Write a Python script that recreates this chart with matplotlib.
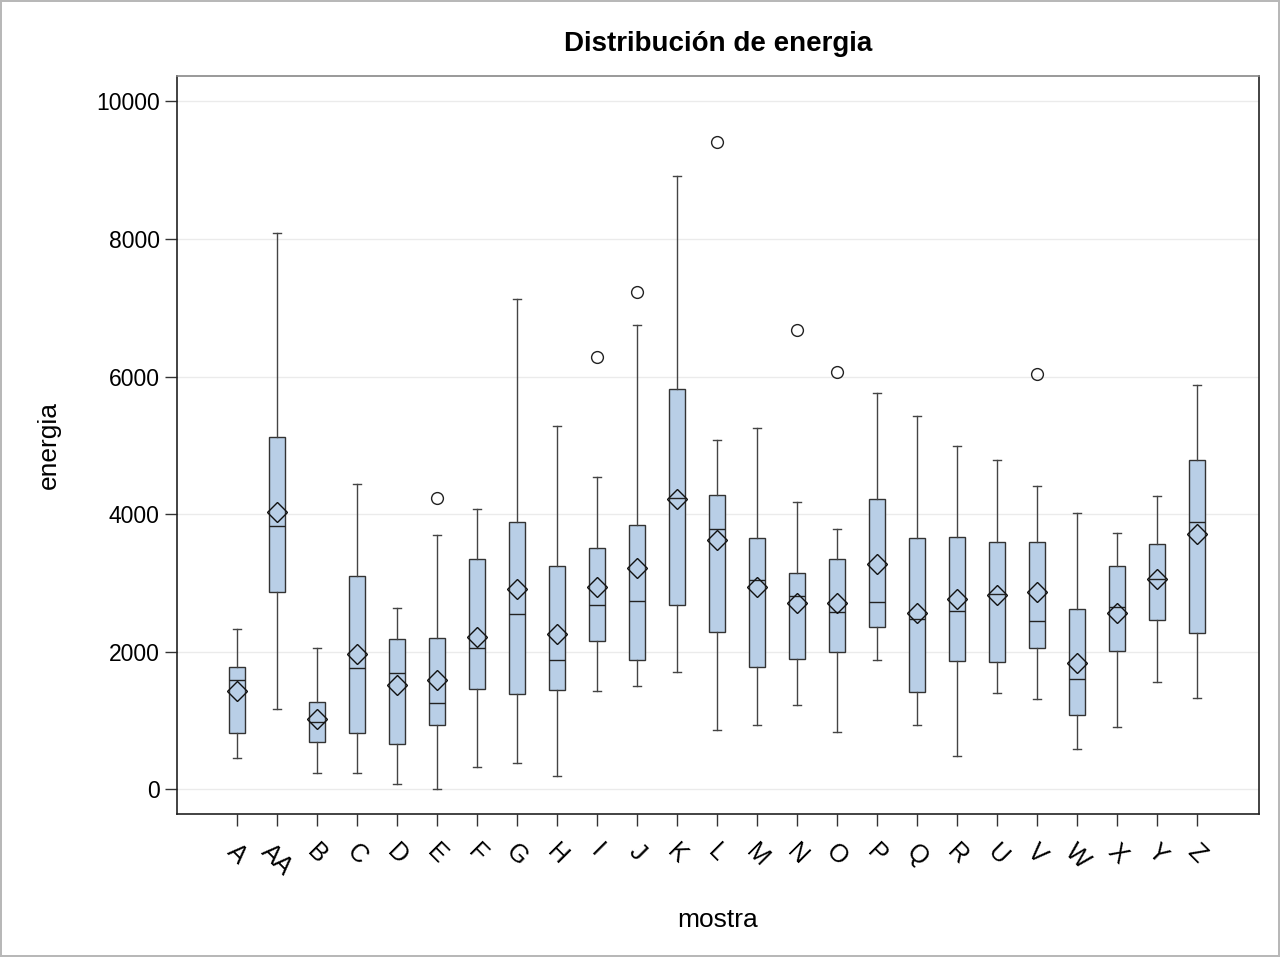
import matplotlib
matplotlib.use("Agg")
import matplotlib.pyplot as plt

plt.rcParams['font.family'] = ['Liberation Sans', 'DejaVu Sans']

categories = ["A", "AA", "B", "C", "D", "E", "F", "G", "H", "I", "J", "K", "L",
              "M", "N", "O", "P", "Q", "R", "U", "V", "W", "X", "Y", "Z"]
whisker_low = [450, 1163, 242, 232, 82, 0, 320, 387, 193, 1424, 1501, 1705, 862,
               930, 1230, 833, 1880, 939, 482, 1403, 1314, 581, 910, 1565, 1324]
q1 = [823, 2863, 692, 814, 654, 930, 1453, 1381, 1439, 2160, 1884, 2683, 2286,
      1778, 1890, 1991, 2364, 1410, 1860, 1855, 2052, 1083, 2008, 2461, 2279]
median = [1589, 3823, 983, 1758, 1695, 1254, 2049, 2548, 1875, 2674, 2737, 4238, 3779,
          3047, 2810, 2582, 2718, 2475, 2589, 2844, 2451, 1599, 2657, 3056, 3888]
mean = [1429, 4030, 1026, 1971, 1511, 1584, 2214, 2907, 2257, 2940, 3212, 4224, 3619,
        2940, 2713, 2713, 3279, 2563, 2761, 2830, 2869, 1836, 2564, 3056, 3706]
q3 = [1773, 5125, 1273, 3100, 2180, 2195, 3343, 3890, 3250, 3507, 3837, 5814, 4282,
      3648, 3139, 3343, 4219, 3648, 3661, 3588, 3593, 2628, 3253, 3563, 4783]
whisker_high = [2325, 8086, 2058, 4438, 2630, 3692, 4074, 7131, 5285, 4539, 6744, 8914, 5082,
                5247, 4176, 3779, 5756, 5421, 4990, 4793, 4404, 4016, 3720, 4257, 5871]
outliers = {"E": [4234], "I": [6279], "J": [7233], "L": [9413],
            "N": [6671], "O": [6066], "V": [6038]}

title = "Distribución de energia"
xlabel = "mostra"
ylabel = "energia"
yticks = [0, 2000, 4000, 6000, 8000, 10000]

stats = []
for i, c in enumerate(categories):
    stats.append(dict(label=c, whislo=whisker_low[i], q1=q1[i], med=median[i],
                      mean=mean[i], q3=q3[i], whishi=whisker_high[i],
                      fliers=outliers.get(c, [])))

fig = plt.figure(figsize=(12.8, 9.57), dpi=100)
fig.patch.set_facecolor('white')
fig.patch.set_edgecolor('#b8b8b8')
fig.patch.set_linewidth(1.5)
ax = fig.add_axes([0.1383, 0.1494, 0.8453, 0.7712])

box_col = '#B9CFE7'
ax.bxp(stats, positions=list(range(1, len(categories) + 1)), widths=0.4,
       capwidths=0.2, showmeans=True, meanline=False, patch_artist=True,
       boxprops=dict(facecolor=box_col, edgecolor='#333333', linewidth=1.0),
       medianprops=dict(color='#222222', linewidth=1.0),
       whiskerprops=dict(color='#444444', linewidth=1.0),
       capprops=dict(color='#444444', linewidth=1.0),
       meanprops=dict(marker='D', markerfacecolor='none', markeredgecolor='#111111',
                      markersize=10, markeredgewidth=1.0),
       flierprops=dict(marker='o', markerfacecolor='none', markeredgecolor='#222222',
                       markersize=8.5, markeredgewidth=1.0))

ax.set_xlim(-0.5, 26.55)
ax.set_ylim(-360, 10370)
ax.set_yticks(yticks)
ax.set_yticklabels([str(v) for v in yticks])
ax.yaxis.grid(True, color='#ebebeb', linewidth=1.0)
ax.set_axisbelow(True)

ax.tick_params(axis='both', length=8.6, width=1.0, color='#333333')
ax.tick_params(axis='y', pad=4, labelsize=16.5)
ax.tick_params(axis='x', pad=10, labelsize=18)
for lab in ax.get_xticklabels():
    lab.set_rotation(-45)
    lab.set_ha('center')
    lab.set_va('top')
    lab.set_rotation_mode('default')

for s in ['left', 'bottom', 'right']:
    ax.spines[s].set_color('#222222')
    ax.spines[s].set_linewidth(1.2)
ax.spines['top'].set_color('#888888')
ax.spines['top'].set_linewidth(1.2)

ax.set_xlabel(xlabel, fontsize=19, labelpad=20)
ax.set_ylabel(ylabel, fontsize=19, labelpad=25)
ax.set_title(title, fontsize=20, fontweight='bold', pad=18)

fig.savefig("out.png", dpi=100, facecolor=fig.get_facecolor(), edgecolor=fig.get_edgecolor())
